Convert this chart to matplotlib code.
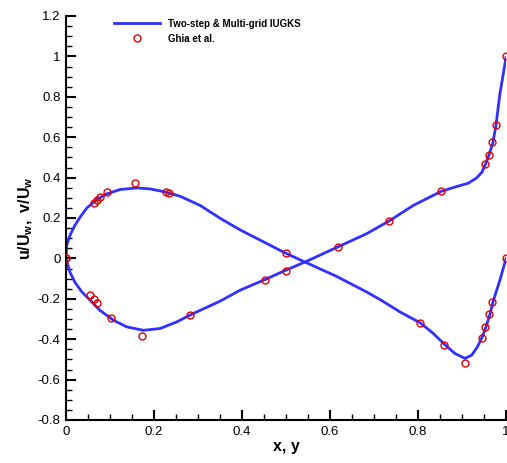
import matplotlib
matplotlib.use("Agg")
import matplotlib.pyplot as plt
from matplotlib.ticker import MultipleLocator, FuncFormatter

plt.rcParams['font.family'] = ['Liberation Sans', 'DejaVu Sans']
plt.rcParams['mathtext.fontset'] = 'custom'
plt.rcParams['mathtext.bf'] = 'Liberation Sans:bold'
plt.rcParams['mathtext.rm'] = 'Liberation Sans'

# IUGKS solution, u along vertical centerline
u_pos = [0.0, 0.009, 0.020, 0.036, 0.055, 0.077, 0.108, 0.138, 0.176, 0.214,
         0.252, 0.289, 0.350, 0.395, 0.452, 0.499, 0.543, 0.617, 0.683, 0.735,
         0.789, 0.852, 0.888, 0.914, 0.933, 0.945, 0.953, 0.961, 0.970, 0.977,
         0.986, 1.0]
u_val = [0.0, -0.068, -0.117, -0.166, -0.207, -0.257, -0.306, -0.339, -0.356, -0.347,
         -0.314, -0.273, -0.212, -0.158, -0.105, -0.059, -0.018, 0.056, 0.122, 0.186,
         0.262, 0.331, 0.356, 0.372, 0.398, 0.426, 0.464, 0.509, 0.571, 0.655,
         0.813, 0.994]

# IUGKS solution, v along horizontal centerline
v_pos = [0.0, 0.0015, 0.009, 0.020, 0.032, 0.047, 0.070, 0.092, 0.123, 0.161,
         0.191, 0.221, 0.259, 0.305, 0.350, 0.395, 0.499, 0.543, 0.614, 0.683,
         0.714, 0.759, 0.805, 0.835, 0.860, 0.884, 0.907, 0.922, 0.935, 0.946,
         0.955, 0.964, 0.971, 0.986, 1.0]
v_val = [0.0, 0.064, 0.114, 0.163, 0.204, 0.249, 0.291, 0.319, 0.341, 0.349,
         0.344, 0.331, 0.308, 0.262, 0.199, 0.142, 0.026, -0.018, -0.088, -0.166,
         -0.204, -0.265, -0.319, -0.372, -0.425, -0.471, -0.495, -0.479, -0.438, -0.389,
         -0.336, -0.273, -0.211, -0.109, -0.001]

# Ghia et al. (Re=1000)
ghia_y = [1.0, 0.9766, 0.9688, 0.9609, 0.9531, 0.8516, 0.7344, 0.6172, 0.5, 0.4531,
          0.2813, 0.1719, 0.1016, 0.0703, 0.0625, 0.0547, 0.0]
ghia_u = [1.0, 0.65928, 0.57492, 0.51117, 0.46604, 0.33304, 0.18719, 0.05702, -0.06080,
          -0.10648, -0.27805, -0.38289, -0.29730, -0.22220, -0.20196, -0.18109, 0.0]
ghia_x = [1.0, 0.9688, 0.9609, 0.9531, 0.9453, 0.9063, 0.8594, 0.8047, 0.5, 0.2344,
          0.2266, 0.1563, 0.0938, 0.0781, 0.0703, 0.0625, 0.0]
ghia_v = [0.0, -0.21388, -0.27669, -0.33714, -0.39188, -0.51550, -0.42665, -0.31966,
          0.02526, 0.32235, 0.33075, 0.37095, 0.32627, 0.30353, 0.29012, 0.27485, 0.0]

fig = plt.figure(figsize=(5.07, 4.63), dpi=100)
ax = fig.add_axes([66/507, 1-420/463, 440/507, 404/463])

line_col = '#3030ff'
ln, = ax.plot(u_pos, u_val, color=line_col, lw=2, label='Two-step & Multi-grid IUGKS', zorder=2)
ax.plot(v_pos, v_val, color=line_col, lw=2, zorder=2)
mk, = ax.plot(ghia_y, ghia_u, 'o', mfc='none', mec='#e00000', ms=5, mew=1, label='Ghia et al.', zorder=3)
ax.plot(ghia_x, ghia_v, 'o', mfc='none', mec='#e00000', ms=5, mew=1, zorder=3)

ax.set_xlim(0, 1)
ax.set_ylim(-0.8, 1.2)
ax.xaxis.set_major_locator(MultipleLocator(0.2))
ax.xaxis.set_minor_locator(MultipleLocator(0.05))
ax.yaxis.set_major_locator(MultipleLocator(0.2))
ax.yaxis.set_minor_locator(MultipleLocator(0.05))
ax.xaxis.set_major_formatter(FuncFormatter(lambda v, p: f"{v:g}"))
ax.yaxis.set_major_formatter(FuncFormatter(lambda v, p: f"{v:g}"))

ax.spines['top'].set_visible(False)
ax.spines['right'].set_visible(False)
ax.spines['left'].set_linewidth(1.5)
ax.spines['bottom'].set_linewidth(1.5)
ax.tick_params(which='major', direction='in', length=7, width=1.5, labelsize=9.5, pad=4)
ax.tick_params(which='minor', direction='in', length=4, width=1)

ax.set_xlabel('x, y', fontsize=11.5, fontweight='bold', labelpad=1)
ax.set_ylabel(r'$\mathbf{u/U_w,\ v/U_w}$', fontsize=11.5, labelpad=2)

ax.legend(handles=[ln, mk], loc='upper left', bbox_to_anchor=(105/507, 1-10/463),
          bbox_transform=fig.transFigure, frameon=False,
          handlelength=4.8, handletextpad=0.8, labelspacing=0.5,
          prop={'weight': 'bold', 'size': 7})

fig.savefig('out.png', dpi=100)
